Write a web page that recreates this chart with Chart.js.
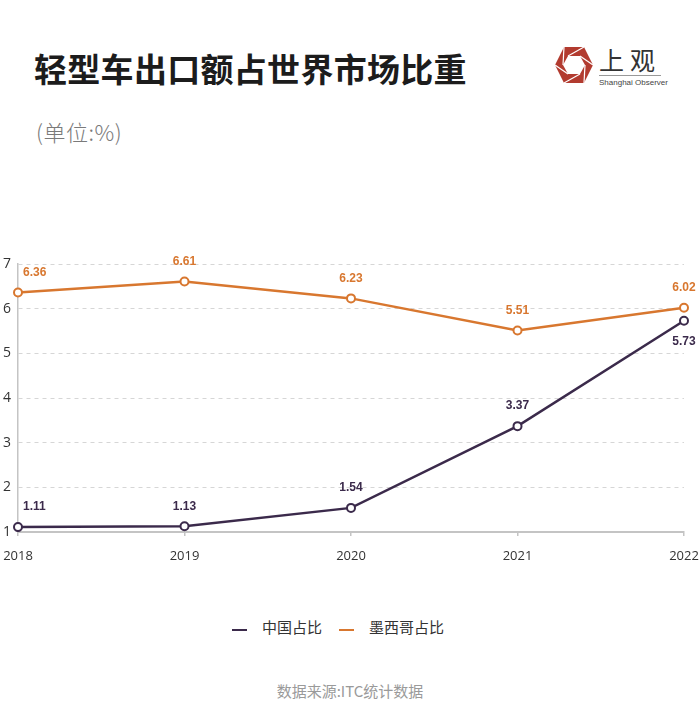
<!DOCTYPE html>
<html lang="zh">
<head>
  <meta charset="UTF-8" />
  <title>轻型车出口额占世界市场比重</title>
  <script src="https://cdn.jsdelivr.net/npm/chart.js"></script>
  <style>
    body { margin: 0; width: 700px; height: 725px; background: #fff; position: relative; overflow: hidden;
           font-family: "Noto Sans CJK SC", "Noto Sans", sans-serif; }
    .title { position: absolute; left: 34px; top: 52px; font-size: 33px; font-weight: 700; color: #1c1c1c; line-height: 1; letter-spacing: 0.3px; }
    .unit { position: absolute; left: 36px; top: 120px; font-size: 22px; color: #7a7a7a; font-weight: 300; line-height: 1; letter-spacing: 0.5px; }
    .logo { position: absolute; left: 554px; top: 45px; }
    .logo-text { position: absolute; left: 599px; top: 47px; font-size: 25px; color: #333; line-height: 1; letter-spacing: 6px; font-family: "Noto Sans CJK SC", serif; }
    .logo-rule { position: absolute; left: 599px; top: 75px; width: 62px; height: 1px; background: #999; }
    .logo-en { position: absolute; left: 599px; top: 78px; font-size: 8px; color: #444; font-family: "Liberation Sans Narrow", "Liberation Sans", sans-serif; }
    .chart-box { position: absolute; left: 0; top: 240px; width: 700px; height: 327px; }
    .legend { position: absolute; top: 616px; left: 232px; display: flex; align-items: center; font-size: 15px; color: #333; }
    .legend span.mark { display: inline-block; width: 15px; height: 2px; margin-right: 15px; margin-top: 6px; }
    .legend span.item { margin-right: 17px; }
    .source { position: absolute; top: 680px; left: 0; width: 700px; text-align: center; font-size: 15px; color: #9a9a9a; }
  </style>
</head>
<body>
  <div class="title">轻型车出口额占世界市场比重</div>
  <div class="unit">(单位:%)</div>

  <svg class="logo" width="40" height="40" viewBox="0 0 40 40">
    <polygon points="10,2 30,2 39,20 30,38 10,38 1,20" fill="#b23b2f"/>
    <polygon points="14,11 26,11 31,20 26,29 14,29 9,20" fill="#fff"/>
    <line x1="14" y1="11" x2="30" y2="2" stroke="#fff" stroke-width="1.2"/>
    <line x1="26" y1="11" x2="39" y2="20" stroke="#fff" stroke-width="1.2"/>
    <line x1="31" y1="20" x2="30" y2="38" stroke="#fff" stroke-width="1.2"/>
    <line x1="26" y1="29" x2="10" y2="38" stroke="#fff" stroke-width="1.2"/>
    <line x1="14" y1="29" x2="1" y2="20" stroke="#fff" stroke-width="1.2"/>
    <line x1="9" y1="20" x2="10" y2="2" stroke="#fff" stroke-width="1.2"/>
  </svg>
  <div class="logo-text">上观</div>
  <div class="logo-rule"></div>
  <div class="logo-en">Shanghai Observer</div>

  <div class="chart-box"><canvas id="lineChart" width="700" height="327"></canvas></div>

  <div class="legend" id="legend"></div>
  <div class="source">数据来源:ITC统计数据</div>

  <script>
    const years = ['2018', '2019', '2020', '2021', '2022'];
    const chinaShare = [1.11, 1.13, 1.54, 3.37, 5.73];
    const mexicoShare = [6.36, 6.61, 6.23, 5.51, 6.02];
    const seriesNames = ['中国占比', '墨西哥占比'];

    const purple = '#3b2a4b';
    const orange = '#d8772f';

    // value labels above each point (below if another line sits just above it)
    const valueLabels = {
      id: 'valueLabels',
      afterDatasetsDraw(chart) {
        const ctx = chart.ctx;
        const sets = chart.data.datasets;
        ctx.save();
        ctx.font = 'bold 12px "Liberation Sans Narrow", "Arial Narrow", sans-serif';
        ctx.textBaseline = 'middle';
        sets.forEach((ds, i) => {
          const meta = chart.getDatasetMeta(i);
          ctx.fillStyle = ds.borderColor;
          meta.data.forEach((pt, j) => {
            const v = ds.data[j];
            const crowded = sets.some((o, k) => k !== i && o.data[j] > v && o.data[j] - v < 0.6);
            const y = crowded ? pt.y + 21 : pt.y - 20;
            if (j === 0) {
              ctx.textAlign = 'left';
              ctx.fillText(v.toFixed(2), pt.x + 5, y);
            } else {
              ctx.textAlign = 'center';
              ctx.fillText(v.toFixed(2), pt.x, y);
            }
          });
        });
        ctx.restore();
      }
    };

    const chart = new Chart(document.getElementById('lineChart'), {
      type: 'line',
      data: {
        labels: years,
        datasets: [
          {
            label: seriesNames[0],
            data: chinaShare,
            borderColor: purple,
            borderWidth: 2.5,
            pointRadius: 4,
            pointBorderWidth: 2,
            pointBackgroundColor: '#fff',
            pointBorderColor: purple,
            tension: 0
          },
          {
            label: seriesNames[1],
            data: mexicoShare,
            borderColor: orange,
            borderWidth: 2.5,
            pointRadius: 4,
            pointBorderWidth: 2,
            pointBackgroundColor: '#fff',
            pointBorderColor: orange,
            tension: 0
          }
        ]
      },
      options: {
        responsive: false,
        animation: false,
        layout: { padding: { top: 24, left: 3, right: 0, bottom: 0 } },
        plugins: { legend: { display: false }, tooltip: { enabled: false } },
        scales: {
          x: {
            offset: false,
            afterFit: s => { s.height = 35; s.paddingLeft = 0; s.paddingRight = 16; },
            grid: { drawOnChartArea: false, drawTicks: true, tickLength: 4, color: '#c4c4c4', lineWidth: 1.5 },
            border: { color: '#c4c4c4', width: 2 },
            ticks: { color: '#333', padding: 12, font: { family: '"Open Sans", "Noto Sans", sans-serif', size: 13 } }
          },
          y: {
            min: 1,
            max: 7,
            afterFit: s => { s.width = 15; },
            grid: { drawTicks: false, color: '#d6d6d6', lineWidth: 1 },
            border: { color: '#c4c4c4', width: 1.5, dash: [4, 4] },
            ticks: { stepSize: 1, crossAlign: 'far', color: '#333', font: { family: '"Open Sans", "Noto Sans", sans-serif', size: 14 } }
          }
        }
      },
      plugins: [valueLabels]
    });

    // legend built from the dataset names and colours
    const legend = document.getElementById('legend');
    chart.data.datasets.forEach(ds => {
      const mark = document.createElement('span');
      mark.className = 'mark';
      mark.style.background = ds.borderColor;
      const text = document.createElement('span');
      text.className = 'item';
      text.textContent = ds.label;
      legend.appendChild(mark);
      legend.appendChild(text);
    });
  </script>
</body>
</html>
